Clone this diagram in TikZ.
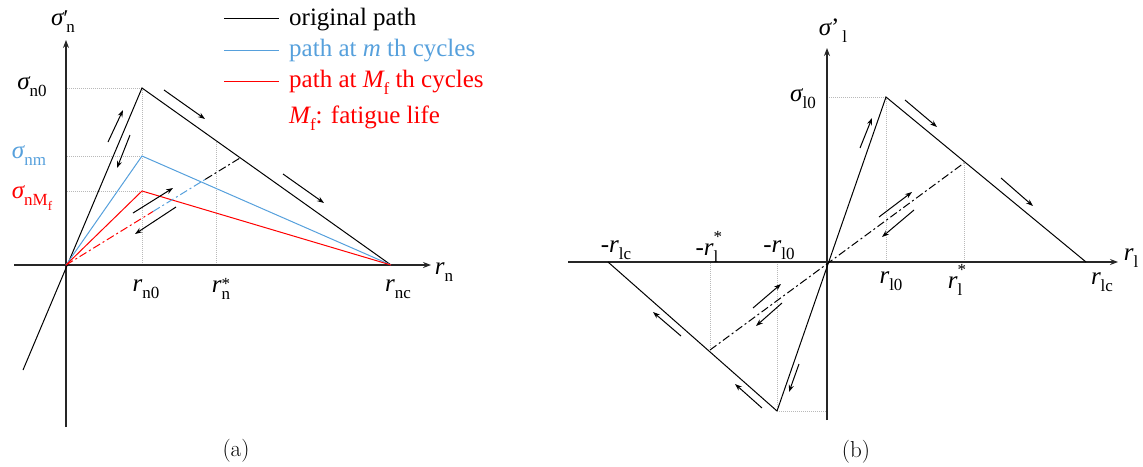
\documentclass[tikz,border=0pt]{standalone}
\usepackage{fontspec}
\setmainfont{Liberation Serif}
\usetikzlibrary{arrows.meta,calc}
\definecolor{pblue}{RGB}{86,160,220}
\definecolor{pred}{RGB}{255,0,0}
\definecolor{guidegray}{RGB}{185,185,185}
\newcommand\lowsub[1]{\raisebox{-0.28em}{\fontsize{17}{17}\selectfont #1}}
\newcommand\supsub[3][0.5em]{\rlap{\raisebox{#1}{\fontsize{17}{17}\selectfont #2}}\lowsub{#3}}
\newcommand\ivar[1]{{\itshape #1}}
\tikzset{
  axisline/.style={line width=1.2pt, draw=black!85, -{Stealth[length=8pt,width=6pt]}},
  curve/.style={line width=1pt},
  guide/.style={draw=guidegray, line width=0.6pt, dash pattern=on 1pt off 1pt},
  dashdot/.style={line width=1pt, dash pattern=on 8pt off 3pt on 2pt off 3pt},
  dirarrow/.style={line width=1pt, -{Stealth[length=7pt,width=5pt]}},
  lbl/.style={inner sep=0pt, font=\fontsize{25}{25}\selectfont},
  legtext/.style={inner sep=0pt, anchor=base west, font=\fontsize{25}{25}\selectfont},
  captionlbl/.style={inner sep=0pt, font=\fontfamily{lmr}\fontsize{23}{23}\selectfont},
}
\begin{document}
\begin{tikzpicture}[x=1pt,y=-1pt]
\useasboundingbox (0,0) rectangle (1143,466);
% ================= panel (a) =================
\coordinate (aO) at (66,265);
\coordinate (aP) at (142,88);
\coordinate (aB) at (142,156);
\coordinate (aR) at (142,191);
\coordinate (aC) at (391,265);
\coordinate (aL) at (23,370);
\coordinate (aS) at (240,158);
\coordinate (aX1) at (14,265);
\coordinate (aX2) at (431,265);
\coordinate (aY1) at (66,427);
\coordinate (aY2) at (66,40);
\coordinate (aT) at (216,142);
\coordinate (aD1) at ($(aO)!0.5!(aS)$);
\coordinate (aD2) at ($(aO)!0.8!(aS)$);
% guides
\draw[guide] (aP) -- (aP -| aO);
\draw[guide] (aB) -- (aB -| aO);
\draw[guide] (aR) -- (aR -| aO);
\draw[guide] (aP) -- (aP |- aO);
\draw[guide] (aT) -- (aT |- aO);
% axes
\draw[axisline] (aX1) -- (aX2);
\draw[axisline] (aY1) -- (aY2);
% paths
\draw[curve] (aL) -- (aP) -- (aC);
\draw[curve, pblue] (aO) -- (aB) -- (aC);
\draw[curve, pred] (aO) -- (aR) -- (aC);
\draw[dashdot, pred] (aO) -- (aD1);
\draw[dashdot, pblue] (aD1) -- (aD2);
\draw[dashdot] (aD2) -- (aS);
% direction arrows
\coordinate (a1s) at (108,142); \coordinate (a1e) at (123,110);
\coordinate (a2s) at (130,135); \coordinate (a2e) at (117,168);
\coordinate (a3s) at (164,90);  \coordinate (a3e) at (205,119);
\coordinate (a4s) at (283,174); \coordinate (a4e) at (324,203);
\coordinate (a5s) at (133,213); \coordinate (a5e) at (173,188);
\coordinate (a6s) at (176,207); \coordinate (a6e) at (135,234);
\foreach \i in {1,...,6} \draw[dirarrow] (a\i s) -- (a\i e);
% labels
\node[lbl] (laY) at (63,22) {\ivar{σ}\supsub[-0.05em]{\fontsize{24}{24}\selectfont ′}{\,n}};
\node[lbl] (laP) at (32,87) {\ivar{σ}\lowsub{n0}};
\node[lbl, text=pblue] (laB) at (29,156) {\ivar{σ}\lowsub{nm}};
\node[lbl, text=pred] (laR) at (32,198) {\ivar{σ}\lowsub{nM\raisebox{-0.25em}{\fontsize{13}{13}\selectfont f}}};
\node[lbl] (lar0) at (146,289) {\ivar{r}\lowsub{n0}};
\node[lbl] (lars) at (221,289) {\ivar{r}\supsub[0.15em]{*}{n}};
\node[lbl] (larc) at (398,289) {\ivar{r}\lowsub{nc}};
\node[lbl] (larx) at (444,272) {\ivar{r}\lowsub{n}};
% legend
\coordinate (lg1a) at (224,18); \coordinate (lg1b) at (279,18);
\coordinate (lg2a) at (224,50); \coordinate (lg2b) at (279,50);
\coordinate (lg3a) at (224,81); \coordinate (lg3b) at (279,81);
\draw[curve] (lg1a) -- (lg1b);
\draw[curve, pblue] (lg2a) -- (lg2b);
\draw[curve, pred] (lg3a) -- (lg3b);
\node[legtext] (lt1) at (289,25) {original path};
\node[legtext, text=pblue] (lt2) at (289,56) {path at \ivar{m} th cycles};
\node[legtext, text=pred] (lt3) at (289,87) {path at \ivar{M}\lowsub{f} th cycles};
\node[legtext, text=pred] (lt4) at (289,123) {\ivar{M}\lowsub{f}: fatigue life};
\node[captionlbl] (capa) at (236,451) {(a)};
% ================= panel (b) =================
\coordinate (bO) at (827,262);
\coordinate (bP) at (886,97);
\coordinate (bC) at (1086,262);
\coordinate (bS) at (964,163);
\coordinate (bNC) at (608,262);
\coordinate (bNS) at (710,350);
\coordinate (bN) at (777,411);
\coordinate (bX1) at (568,262);
\coordinate (bX2) at (1118,262);
\coordinate (bY1) at (827,420);
\coordinate (bY2) at (827,48);
% guides
\draw[guide] (bP) -- (bP -| bO);
\draw[guide] (bP) -- (bP |- bO);
\draw[guide] (bS) -- (bS |- bO);
\draw[guide] (bNS) -- (bNS |- bO);
\draw[guide] (bN) -- (bN |- bO);
\draw[guide] (bN) -- (bN -| bO);
% axes
\draw[axisline] (bX1) -- (bX2);
\draw[axisline] (bY1) -- (bY2);
% paths
\draw[curve] (bN) -- (bP) -- (bC);
\draw[curve] (bNC) -- (bN);
\draw[dashdot] (bNS) -- (bS);
% direction arrows
\coordinate (b1s) at (860,148);  \coordinate (b1e) at (872,118);
\coordinate (b2s) at (905,100);  \coordinate (b2e) at (937,127);
\coordinate (b3s) at (1001,178); \coordinate (b3e) at (1033,206);
\coordinate (b4s) at (879,217);  \coordinate (b4e) at (912,192);
\coordinate (b5s) at (914,210);  \coordinate (b5e) at (882,237);
\coordinate (b6s) at (681,336);  \coordinate (b6e) at (653,312);
\coordinate (b7s) at (762,408);  \coordinate (b7e) at (735,384);
\coordinate (b8s) at (753,308);  \coordinate (b8e) at (781,284);
\coordinate (b9s) at (782,303);  \coordinate (b9e) at (756,326);
\coordinate (b10s) at (799,364); \coordinate (b10e) at (789,392);
\foreach \i in {1,...,10} \draw[dirarrow] (b\i s) -- (b\i e);
% labels
\node[lbl] (lbY) at (833,31) {\ivar{σ}’\lowsub{\,l}};
\node[lbl] (lbP) at (803,99) {\ivar{σ}\lowsub{l0}};
\node[lbl] (lbnc) at (616,250) {-\ivar{r}\lowsub{lc}};
\node[lbl] (lbns) at (707,247) {-\ivar{r}\supsub[0.55em]{*}{l}};
\node[lbl] (lbn0) at (779,250) {-\ivar{r}\lowsub{l0}};
\node[lbl] (lbr0) at (891,281) {\ivar{r}\lowsub{l0}};
\node[lbl] (lbrs) at (955,280) {\ivar{r}\supsub[0.55em]{*}{l}};
\node[lbl] (lbrc) at (1102,282) {\ivar{r}\lowsub{lc}};
\node[lbl] (lbrx) at (1131,258) {\ivar{r}\lowsub{l}};
\node[captionlbl] (capb) at (856,452) {(b)};
\end{tikzpicture}
\end{document}
